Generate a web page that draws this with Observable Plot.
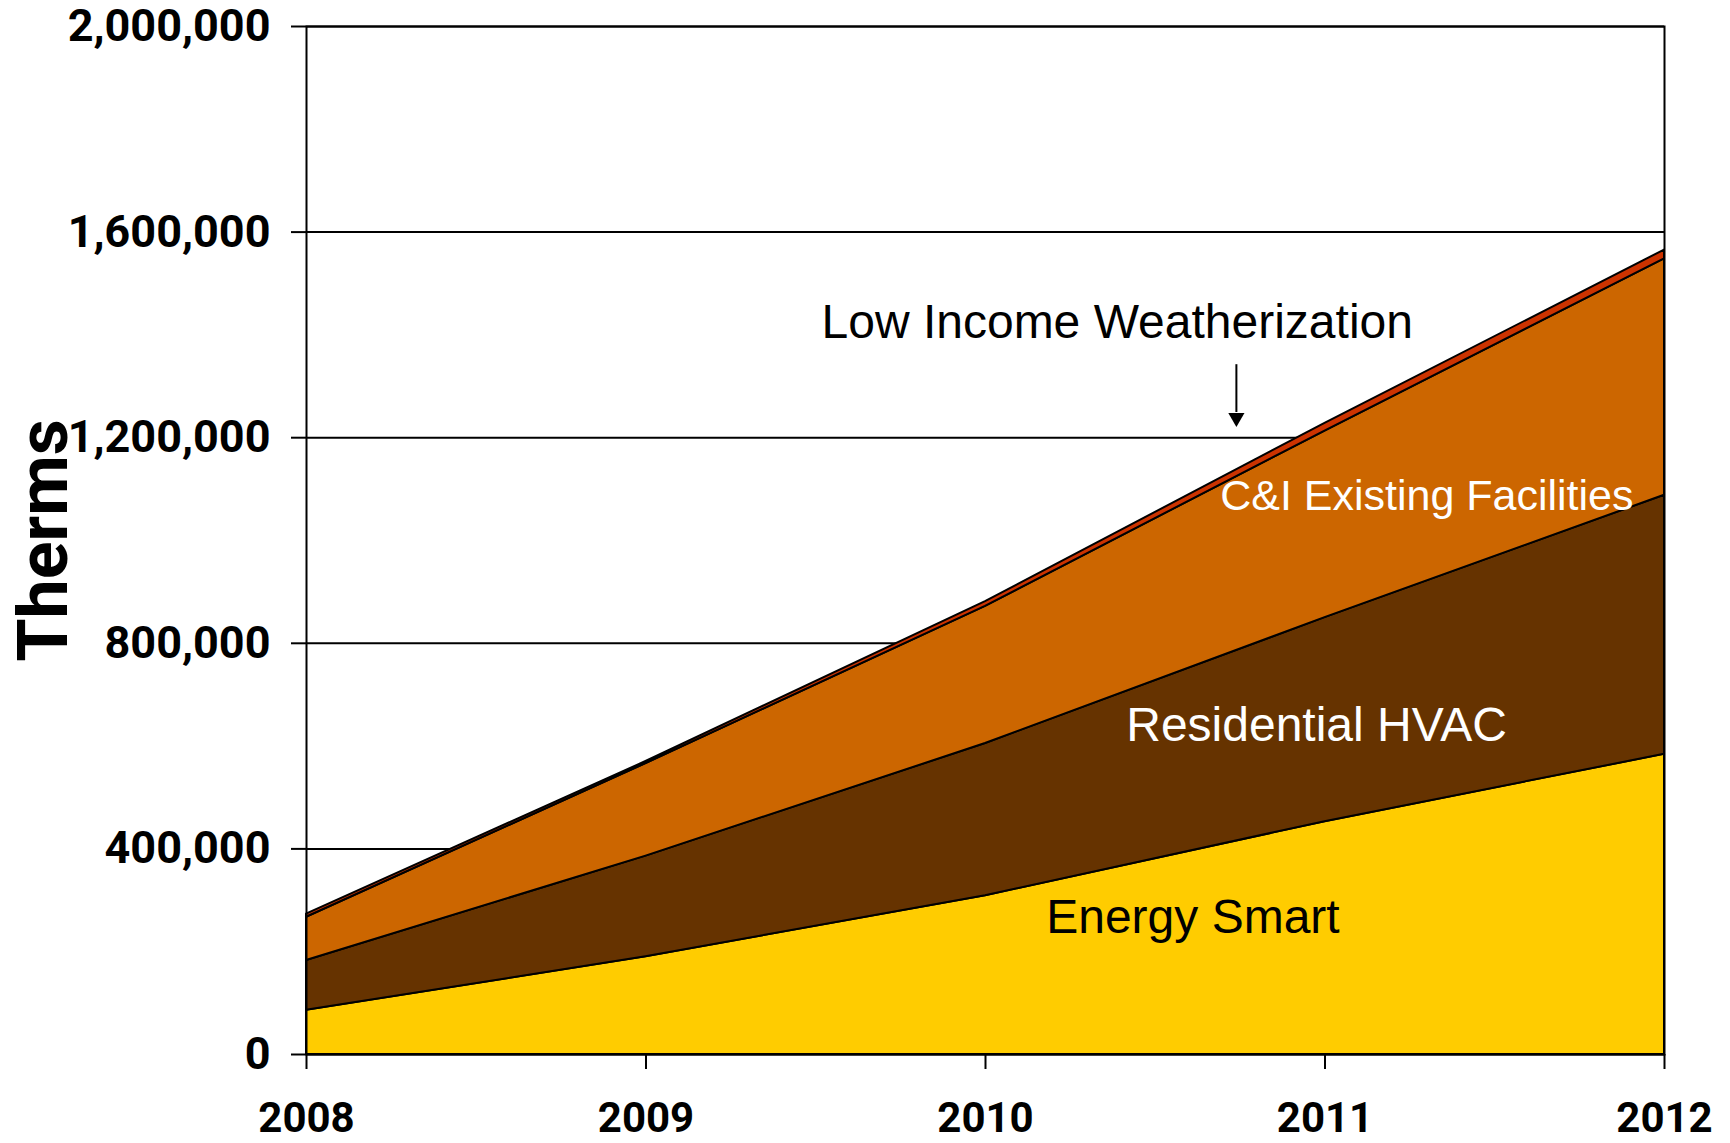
<!DOCTYPE html>
<html><head><meta charset="utf-8">
<script src="https://cdn.jsdelivr.net/npm/d3@7"></script>
<script src="https://cdn.jsdelivr.net/npm/@observablehq/plot@0.6"></script>
<style>html,body{margin:0;padding:0;background:#fff}</style>
</head><body><div id="chart"></div>
<script>
const years = [2008, 2009, 2010, 2011, 2012];
const programs = ["Energy Smart", "Residential HVAC", "C&I Existing Facilities", "Low Income Weatherization"];
const energySmart = [86000, 190000, 309000, 453000, 584000];
const residentialHVAC = [97000, 196000, 296000, 397000, 504000];
const ciExisting = [84000, 180000, 267000, 363000, 460000];
const lowIncome = [6000, 4000, 9000, 15000, 17000];
const yTicks = [0, 400000, 800000, 1200000, 1600000, 2000000];
const yTitle = "Therms";

const colors = ["#FFCC00", "#663300", "#CC6600", "#CC3300"];
const series = [energySmart, residentialHVAC, ciExisting, lowIncome];
const rows = [];
programs.forEach((p, i) => years.forEach((yr, j) => rows.push({program: p, year: yr, value: series[i][j]})));

const labelFont = "'Liberation Sans', Arial, sans-serif";
const chart = Plot.plot({
  width: 1730, height: 1143,
  marginLeft: 306, marginRight: 66, marginTop: 26, marginBottom: 89,
  style: {fontFamily: "Roboto, sans-serif", background: "white", color: "black"},
  x: {domain: [2008, 2012]},
  y: {domain: [0, 2000000]},
  color: {domain: programs, range: colors},
  marks: [
    Plot.gridY(yTicks, {stroke: "black", strokeOpacity: 1, strokeWidth: 2}),
    Plot.areaY(rows, {x: "year", y: "value", z: "program", fill: "program", stroke: "black", strokeWidth: 2, strokeLinejoin: "round"}),
    Plot.frame({stroke: "black", strokeWidth: 2}),
    Plot.axisY(yTicks, {tickSize: 15, tickPadding: 21, fontSize: 45, fontWeight: "bold", tickFormat: d3.format(","), label: null, strokeWidth: 2}),
    Plot.axisX(years, {tickSize: 15, tickPadding: 33, fontSize: 42, fontWeight: "bold", tickFormat: d => String(d), label: null, strokeWidth: 2}),
    Plot.text([yTitle], {frameAnchor: "left", textAnchor: "middle", lineAnchor: "middle", rotate: -90, dx: -262, fontSize: 70, fontWeight: "bold"}),
    Plot.text([programs[3]], {x: 2010.388, y: 1423000, fontSize: 48, fontFamily: labelFont, fill: "black"}),
    Plot.link([0], {x1: 2010.739, x2: 2010.739, y1: 1343000, y2: 1250000, stroke: "black", strokeWidth: 2}),
    Plot.dot([0], {x: 2010.739, y: 1239000, symbol: "triangle", r: 6, rotate: 180, fill: "black", stroke: null}),
    Plot.text([programs[2]], {x: 2011.30, y: 1086000, fontSize: 43, fontFamily: labelFont, fill: "white"}),
    Plot.text([programs[1]], {x: 2010.975, y: 640000, fontSize: 48, fontFamily: labelFont, fill: "white"}),
    Plot.text([programs[0]], {x: 2010.611, y: 267000, fontSize: 48, fontFamily: labelFont, fill: "black"})
  ]
});
document.getElementById("chart").appendChild(chart);
</script>
</body></html>
